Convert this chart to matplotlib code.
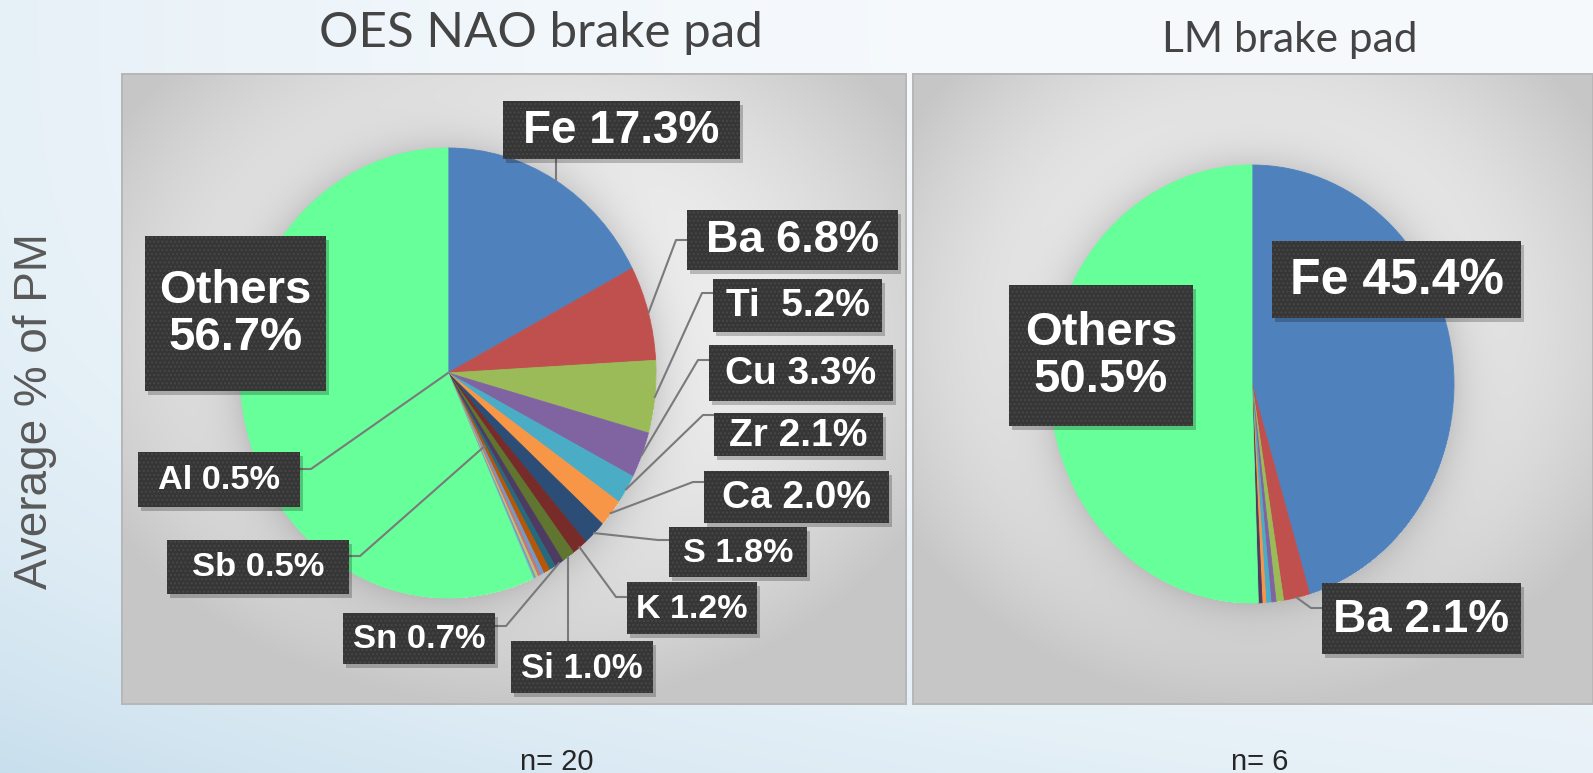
import numpy as np
import matplotlib.pyplot as plt
from matplotlib.patches import Rectangle

W, H = 1593, 773

# chart data
left_elements = ['Fe', 'Ba', 'Ti', 'Cu', 'Zr', 'Ca', 'S', 'K', 'Si', 'Sn', 'Al', 'Sb',
                 '', '', '', '', '', 'Others']
left_share = [17.3, 6.8, 5.2, 3.3, 2.1, 2.0, 1.8, 1.2, 1.0, 0.7, 0.5, 0.5,
              0.3, 0.2, 0.2, 0.1, 0.1, 56.7]
right_elements = ['Fe', 'Ba', '', '', '', '', '', 'Others']
right_share = [45.4, 2.1, 0.6, 0.4, 0.4, 0.3, 0.3, 50.5]
panel_titles = ['OES NAO brake pad', 'LM brake pad']
n_samples = [20, 6]
y_label = 'Average % of PM'

excel = ['#4F81BD', '#C0504D', '#9BBB59', '#8064A2', '#4BACC6', '#F79646',
         '#2C4D75', '#772C2A', '#5F7530', '#4D3B62', '#276A7C', '#B65708',
         '#729ACA', '#CD7371', '#AFC97A', '#9983B5', '#6FBDD1']
others_col = '#66FF99'
left_colors = excel[:len(left_share) - 1] + [others_col]
right_colors = ['#4F81BD', '#C0504D', '#9BBB59', '#8064A2', '#4BACC6', '#F79646',
                '#4D3B62', others_col]

# layout in pixels (image coords, y down)
panels = [(121, 73, 906, 704), (912, 73, 1593, 704)]
pies = [(448, 373, 208, 225), (1252, 384, 202, 219)]

# label boxes: x0, y0, x1, y1, fontsize, side, anchor radius, elbow y
left_boxes = {
    'Fe': (503, 101, 740, 159, 33, 'bottom', 1, None),
    'Ba': (687, 210, 898, 270, 32.5, 'left', 1, 240),
    'Ti': (713, 279, 882, 332, 28, 'left', 1, 293),
    'Cu': (709, 345, 893, 401, 28, 'left', 1, 360),
    'Zr': (714, 413, 883, 456, 28, 'left', 1, 415),
    'Ca': (704, 471, 889, 523, 28, 'left', 1, 482),
    'S': (669, 527, 807, 577, 24.6, 'left', 1, 540),
    'K': (627, 582, 757, 634, 24.5, 'left', 1, 597),
    'Si': (511, 641, 653, 693, 25, 'top', 1, None),
    'Sn': (343, 613, 495, 664, 24.8, 'right', 1, 626),
    'Sb': (167, 540, 349, 594, 24.8, 'right', 0.37, 556),
    'Al': (138, 452, 300, 507, 24.7, 'right', 0, 469),
    'Others': (145, 236, 326, 391, 34, None, 1, None),
}
right_boxes = {
    'Fe': (1272, 241, 1521, 318, 36, None, 1, None),
    'Ba': (1322, 583, 1521, 654, 33, 'left', 1, 608),
    'Others': (1009, 285, 1193, 426, 34, None, 1, None),
}

fig = plt.figure(figsize=(W / 100, H / 100), dpi=100)

# background: slide + panels + pie shadows
yy, xx = np.mgrid[0:H, 0:W].astype(float)
xn, yn = xx / W, yy / H
wgt = np.clip(0.3 * (1 - xn) ** 3 + 0.55 * yn ** 3 * (1 - 0.5 * xn) + 0.04, 0, 1)
top = np.array([0.975, 0.985, 0.995])
blue = np.array([0.76, 0.86, 0.92])
img = top[None, None, :] * (1 - wgt[..., None]) + blue[None, None, :] * wgt[..., None]

for (x0, y0, x1, y1), (pcx, pcy, rx, ry) in zip(panels, pies):
    inside = (xx >= x0) & (xx <= x1) & (yy >= y0) & (yy <= y1)
    cx, cy = (x0 + x1) / 2, (y0 + y1) / 2 - 60
    r2 = ((xx - cx) / ((x1 - x0) / 2)) ** 2 + ((yy - cy) / ((y1 - y0) / 2)) ** 2
    val = np.clip(0.965 - 0.13 * r2, 0.78, 1)
    d = np.sqrt(((xx - pcx) / rx) ** 2 + ((yy - pcy) / ry) ** 2)
    shadow = np.where(d >= 1, 0.13 * np.exp(-(d - 1) * rx / 22), 0)
    val = val - shadow
    for k in range(3):
        img[..., k] = np.where(inside, val, img[..., k])
    edge = inside & ((xx - x0 < 2) | (x1 - xx < 2) | (yy - y0 < 2) | (y1 - yy < 2))
    for k in range(3):
        img[..., k] = np.where(edge, 0.72, img[..., k])

ax_bg = fig.add_axes([0, 0, 1, 1], zorder=0)
ax_bg.imshow(img, extent=(0, W, H, 0), aspect='auto', interpolation='bilinear')
ax_bg.set_xlim(0, W)
ax_bg.set_ylim(H, 0)
ax_bg.axis('off')

ax_o = fig.add_axes([0, 0, 1, 1], zorder=3)
ax_o.set_xlim(0, W)
ax_o.set_ylim(H, 0)
ax_o.axis('off')
ax_o.patch.set_alpha(0)

leader = '#7a7a7a'


def draw_pie(values, colors, names, boxes, geom):
    pcx, pcy, rx, ry = geom
    ax = fig.add_axes([(pcx - rx) / W, 1 - (pcy + ry) / H, 2 * rx / W, 2 * ry / H], zorder=2)
    wedges, _ = ax.pie(values, colors=colors, startangle=90, counterclock=False,
                       radius=1, wedgeprops=dict(linewidth=0.6))
    for w in wedges:
        w.set_edgecolor(w.get_facecolor())
    ax.set_aspect('auto')
    ax.set_xlim(-1, 1)
    ax.set_ylim(-1, 1)
    ax.axis('off')

    for name, val, w in zip(names, values, wedges):
        if name not in boxes:
            continue
        x0, y0, x1, y1, fs, side, ar, ey = boxes[name]
        mid = np.deg2rad((w.theta1 + w.theta2) / 2)
        axp = pcx + rx * ar * np.cos(mid)
        ayp = pcy - ry * ar * np.sin(mid)
        if side == 'bottom':
            ax_o.plot([axp, axp], [ayp, y1], color=leader, lw=1.5, zorder=1)
        elif side == 'top':
            ax_o.plot([axp, axp], [ayp, y0], color=leader, lw=1.5, zorder=1)
        elif side == 'left':
            ax_o.plot([axp, x0 - 11, x0], [ayp, ey, ey], color=leader, lw=1.5, zorder=1)
        elif side == 'right':
            ax_o.plot([axp, x1 + 11, x1], [ayp, ey, ey], color=leader, lw=1.5, zorder=1)
        ax_o.add_patch(Rectangle((x0 + 3, y0 + 4), x1 - x0, y1 - y0, facecolor='black',
                                 alpha=0.22, lw=0, zorder=2))
        ax_o.add_patch(Rectangle((x0, y0), x1 - x0, y1 - y0, facecolor='#363636',
                                 edgecolor='#474747', hatch='....', lw=0, zorder=3))
        if name == 'Others':
            txt = f'{name}\n{val:.1f}%'
        elif name == 'Ti':
            txt = f'{name}  {val:.1f}%'
        else:
            txt = f'{name} {val:.1f}%'
        ax_o.text((x0 + x1) / 2, (y0 + y1) / 2 + 1, txt, color='white', fontsize=fs,
                  fontweight='bold', family='Liberation Sans', ha='center', va='center',
                  linespacing=1.1, zorder=4)


draw_pie(left_share, left_colors, left_elements, left_boxes, pies[0])
draw_pie(right_share, right_colors, right_elements, right_boxes, pies[1])

# titles, axis label, sample counts
title_pos = [(541, 47), (1290, 52)]
title_size = [35.5, 30.5]
for t, (tx, ty), fs in zip(panel_titles, title_pos, title_size):
    ax_o.text(tx, ty, t, fontsize=fs, family='Lato', fontweight='normal', color='#444444',
              ha='center', va='baseline')

ax_o.text(35, 411, y_label, rotation=90, fontsize=33, family='Liberation Sans',
          color='#595959', ha='center', va='center')

n_pos = [557, 1260]
for n, nx in zip(n_samples, n_pos):
    ax_o.text(nx, 770, f'n= {n}', fontsize=21, family='Liberation Sans', color='#262626',
              ha='center', va='baseline')

fig.savefig('out.png', dpi=100)
